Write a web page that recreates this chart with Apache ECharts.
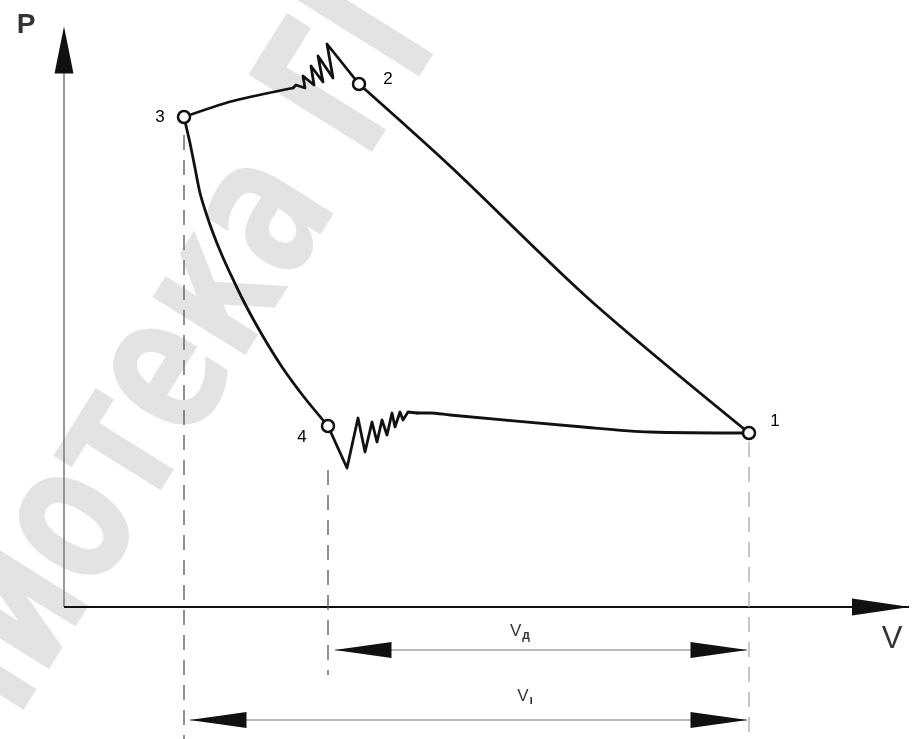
<!DOCTYPE html>
<html>
<head>
<meta charset="utf-8">
<title>Индикаторная диаграмма</title>
<script src="https://cdn.jsdelivr.net/npm/echarts@6/dist/echarts.min.js"></script>
<style>
  html, body { margin: 0; padding: 0; background: #fff; }
  #chart { width: 912px; height: 739px; }
</style>
</head>
<body>
<div id="chart"></div>
<script>
// V, P in drawing units (origin at the axes corner)
var compression = [[685, 174], [526, 307], [386, 441], [295, 523]];
var overshoot = [[295, 523], [263, 563], [269, 529], [254, 551], [259, 525], [247, 541], [250, 522],
                 [239, 531], [241, 519], [232, 522], [229, 519]];
var discharge = [[229, 519], [169, 506], [120, 490]];
var expansion = [[120, 490], [123, 477], [126, 464], [131, 439], [136, 414], [142, 394], [149, 374],
                 [157, 354], [166, 334], [179, 307], [197, 274], [218, 240], [240, 210], [264, 181]];
var suctionRipple = [[264, 181], [283, 139], [294, 189], [301, 155], [308, 185], [313, 165], [318, 187],
                     [323, 172], [328, 194], [331, 180], [336, 195], [339, 187], [344, 195], [353, 194]];
var suction = [[353, 194], [366, 194], [386, 192], [519, 180], [586, 175], [685, 174]];

var stateNames = ['1', '2', '3', '4'];
var stateV = [685, 295, 120, 264];
var stateP = [174, 523, 490, 181];

// dimension lines: Vд (from point 4 to 1) and Vı (from point 3 to 1)
var volumeNames = ['д', 'ı'];
var volumeFrom = [271, 126];
var volumeTo = [683, 683];
var volumeP = [-43, -113];

var myChart = echarts.init(document.getElementById('chart'));

var dims = [];
var arrows = [];
for (var i = 0; i < volumeNames.length; i++) {
  dims.push([volumeFrom[i], volumeP[i]], [volumeTo[i], volumeP[i]], '-');
  arrows.push({ value: [volumeFrom[i] + 28, volumeP[i]], symbolRotate: 90, symbolSize: [16, 57] });
  arrows.push({ value: [volumeTo[i] - 28, volumeP[i]], symbolRotate: -90, symbolSize: [16, 57] });
}
arrows.push({ value: [817, 0], symbolRotate: -90, symbolSize: [17, 58] });
arrows.push({ value: [0, 557], symbolRotate: 0, symbolSize: [19, 47] });

var states = stateNames.map(function (n, i) { return { name: n, value: [stateV[i], stateP[i]] }; });
var labelOffsets = [[26, -12], [29, -5], [-24, 0], [-26, 11]];

var texts = [
  { value: [-38, 582], label: { formatter: 'P', fontSize: 28, fontWeight: 'bold' } },
  { value: [828, -32], label: { formatter: 'V', fontSize: 31 } },
  { value: [456, -24], label: { formatter: '{v|V}{s|' + volumeNames[0] + '}' } },
  { value: [461, -89], label: { formatter: '{v|V}{s|' + volumeNames[1] + '}' } }
];

function curve(data, smooth) {
  return {
    type: 'line', symbol: 'none', data: data, smooth: smooth, z: 3,
    lineStyle: { color: '#111', width: 2.8, join: 'round', cap: 'round' }
  };
}

var option = {
  animation: false,
  backgroundColor: '#fff',
  textStyle: { fontFamily: 'Liberation Sans, Arial, sans-serif' },
  grid: { left: 0, right: 0, top: 0, bottom: 0 },
  xAxis: { type: 'value', min: -64, max: 848, show: false },
  yAxis: { type: 'value', min: -132, max: 607, show: false },
  graphic: [{
    type: 'text',
    x: -216, y: 995,
    rotation: 58 * Math.PI / 180,
    scaleX: 0.7,
    z: -10,
    style: {
      text: 'Библиотека ГГТУ',
      font: 'bold 200px "DejaVu Sans"',
      fill: '#e3e3e3',
      textAlign: 'left',
      textVerticalAlign: 'middle'
    }
  }],
  series: [
    { // P axis
      type: 'line', data: [[0, 0], [0, 534]], symbol: 'none',
      lineStyle: { color: '#777', width: 1.5 }
    },
    { // V axis
      type: 'line', data: [[0, 0], [845, 0]], symbol: 'none',
      lineStyle: { color: '#111', width: 2 }
    },
    {
      type: 'line', symbol: 'none',
      data: [[stateV[2], 472], [stateV[2], -132], '-', [stateV[3], 137], [stateV[3], -68]],
      lineStyle: { color: '#555', width: 1.3, type: [15, 10] }
    },
    {
      type: 'line', symbol: 'none',
      data: [[stateV[0], 165], [stateV[0], -132]],
      lineStyle: { color: '#aaa', width: 1.3, type: [15, 10] }
    },
    {
      type: 'line', symbol: 'none', data: dims,
      lineStyle: { color: '#777', width: 1.2 }
    },
    curve(compression, 0.3),
    curve(overshoot, false),
    curve(discharge, 0.3),
    curve(expansion, 0.3),
    curve(suctionRipple, false),
    curve(suction, 0.3),
    {
      type: 'scatter', symbol: 'triangle', data: arrows,
      itemStyle: { color: '#111', opacity: 1 }, z: 4
    },
    {
      type: 'scatter', symbol: 'circle', symbolSize: 12, data: states,
      itemStyle: { color: '#fff', borderColor: '#111', borderWidth: 2.5, opacity: 1 }, z: 5,
      label: {
        show: true, position: 'inside', color: '#000', fontSize: 17,
        formatter: function (p) { return p.name; }
      },
      labelLayout: function (p) {
        var o = labelOffsets[p.dataIndex];
        return { dx: o[0], dy: o[1] };
      }
    },
    {
      type: 'scatter', symbol: 'circle', symbolSize: 1, data: texts, z: 5,
      itemStyle: { color: 'rgba(0,0,0,0)' },
      label: {
        show: true, position: 'inside', color: '#000',
        rich: {
          v: { fontSize: 17, color: '#000' },
          s: { fontSize: 12, color: '#000', fontWeight: 'bold', padding: [10, 0, 0, 1] }
        }
      }
    }
  ]
};

myChart.setOption(option);
</script>
</body>
</html>
